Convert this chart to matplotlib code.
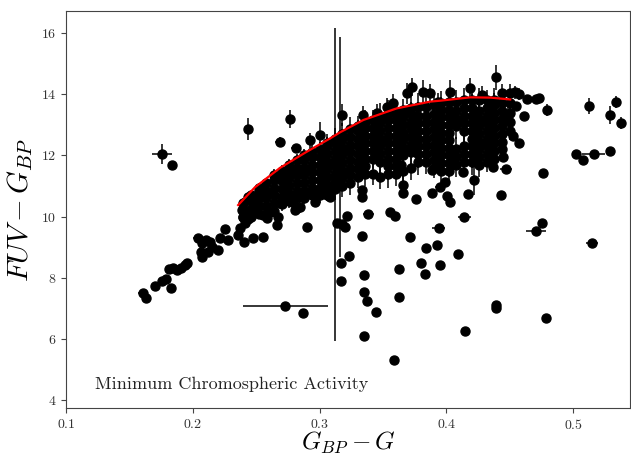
import matplotlib
matplotlib.use("Agg")
import matplotlib.pyplot as plt

# ── fonts: LaTeX-like look ───────────────────────────────────────────────────
plt.rcParams["font.family"] = "serif"
plt.rcParams["font.serif"] = ["cmr10"]
plt.rcParams["mathtext.fontset"] = "cm"
plt.rcParams["axes.formatter.use_mathtext"] = True

# ── DATA ─────────────────────────────────────────────────────────────────────
# dense band of stars: one x per column, y values listed per column
band_cols = [0.240, 0.246, 0.252, 0.258, 0.264, 0.270, 0.276, 0.282, 0.288,
             0.294, 0.300, 0.306, 0.312, 0.318, 0.324, 0.330, 0.336, 0.342,
             0.348, 0.354, 0.360, 0.366, 0.372, 0.378, 0.384, 0.390, 0.396,
             0.402, 0.408, 0.414, 0.420, 0.426, 0.432, 0.438, 0.444, 0.450]
band_rows = [
    [10.00, 10.25, 10.45],
    [10.00, 10.25, 10.50, 10.70],
    [10.10, 10.35, 10.60, 10.85, 10.95],
    [10.10, 10.35, 10.60, 10.85, 11.10],
    [10.20, 10.45, 10.70, 10.95, 11.20, 11.35],
    [10.40, 10.65, 10.90, 11.15, 11.40, 11.50],
    [10.50, 10.75, 11.00, 11.25, 11.50, 11.70],
    [10.60, 10.85, 11.10, 11.35, 11.60, 11.85],
    [10.60, 10.85, 11.10, 11.35, 11.60, 11.85, 12.00],
    [10.70, 10.95, 11.20, 11.45, 11.70, 11.95, 12.10],
    [10.70, 10.95, 11.20, 11.45, 11.70, 11.95, 12.20],
    [10.80, 11.05, 11.30, 11.55, 11.80, 12.05, 12.30, 12.40],
    [10.90, 11.15, 11.40, 11.65, 11.90, 12.15, 12.40, 12.55],
    [11.00, 11.25, 11.50, 11.75, 12.00, 12.25, 12.50, 12.70],
    [11.10, 11.35, 11.60, 11.85, 12.10, 12.35, 12.60, 12.85],
    [11.30, 11.55, 11.80, 12.05, 12.30, 12.55, 12.80, 12.95],
    [11.40, 11.65, 11.90, 12.15, 12.40, 12.65, 12.90, 13.10],
    [11.40, 11.90, 12.15, 12.40, 12.65, 12.90, 13.15],
    [11.30, 11.80, 12.05, 12.30, 12.55, 12.80, 13.05, 13.30],
    [11.40, 11.65, 11.90, 12.15, 12.40, 12.65, 12.90, 13.15, 13.35],
    [11.40, 11.65, 11.90, 12.15, 12.40, 12.65, 12.90, 13.15, 13.40],
    [11.50, 12.00, 12.25, 12.50, 12.75, 13.00, 13.25, 13.50],
    [11.60, 12.10, 12.35, 12.60, 12.85, 13.10, 13.35, 13.55],
    [11.80, 12.05, 12.30, 12.55, 12.80, 13.05, 13.30, 13.60],
    [11.80, 12.05, 12.30, 12.55, 12.80, 13.05, 13.30, 13.60],
    [11.60, 11.85, 12.10, 12.35, 12.60, 12.85, 13.10, 13.35, 13.65],
    [11.50, 11.75, 12.00, 12.25, 12.50, 12.75, 13.00, 13.25, 13.50, 13.70],
    [11.50, 11.75, 12.00, 12.25, 12.50, 12.75, 13.00, 13.25, 13.50, 13.75],
    [11.70, 11.95, 12.20, 12.95, 13.20, 13.45, 13.75],
    [11.80, 12.05, 12.30, 12.80, 13.05, 13.30, 13.55, 13.80],
    [11.80, 12.05, 12.30, 12.55, 12.80, 13.05, 13.30, 13.55, 13.80],
    [11.70, 11.95, 12.20, 12.45, 12.70, 12.95, 13.20, 13.45, 13.80],
    [11.80, 12.05, 12.30, 12.55, 12.80, 13.05, 13.30, 13.55, 13.80],
    [11.90, 12.15, 12.40, 12.65, 12.90, 13.15, 13.40, 13.65, 13.80],
    [12.20, 12.45, 12.70, 12.95, 13.20, 13.45, 13.70],
    [12.80, 13.10, 13.40, 13.70],
]
band_yerr = [0.15, 0.15, 0.15, 0.15, 0.20, 0.20, 0.20, 0.20, 0.20, 0.25, 0.25,
             0.30, 0.35, 0.35, 0.40, 0.35, 0.40, 0.35, 0.40, 0.45, 0.40, 0.35,
             0.40, 0.45, 0.40, 0.35, 0.40, 0.45, 0.40, 0.40, 0.45, 0.40, 0.35,
             0.40, 0.35, 0.30]

# isolated stars without visible error bars
pts_x = [0.1630, 0.1700, 0.1755, 0.1790, 0.1826, 0.1816, 0.1842, 0.1873,
         0.1905, 0.1939, 0.1957, 0.2071, 0.2105, 0.2137, 0.2063, 0.2071,
         0.2123, 0.2150, 0.2202, 0.2215, 0.2255, 0.2276, 0.2360, 0.2405,
         0.2473, 0.2557, 0.2373, 0.2413, 0.2439, 0.2399, 0.2387, 0.2452,
         0.2478, 0.2505, 0.2439, 0.2505, 0.2557, 0.2610, 0.2676, 0.2689,
         0.2781, 0.2821, 0.2965, 0.3084, 0.2584, 0.2663, 0.2807, 0.2847,
         0.2979, 0.3058, 0.2905, 0.1840, 0.4640, 0.4710, 0.4733, 0.4552,
         0.4615, 0.4523, 0.4570, 0.5023, 0.5080, 0.5288, 0.4760, 0.4754,
         0.4783, 0.4370, 0.4450, 0.4435, 0.4175, 0.4130, 0.3990, 0.4005,
         0.4030, 0.3886, 0.3886, 0.3762, 0.3662, 0.3644, 0.3597, 0.3555,
         0.3334, 0.3334, 0.3215, 0.3136, 0.3176, 0.3202, 0.3334, 0.3710,
         0.3839, 0.3926, 0.4091, 0.3234, 0.3170, 0.3170, 0.3352, 0.3630,
         0.3802, 0.3834, 0.3952, 0.3352, 0.3373, 0.3623, 0.3444, 0.4391,
         0.4391, 0.4149, 0.3352, 0.2870]
pts_y = [7.34, 7.72, 7.91, 7.96, 7.66, 8.28, 8.34, 8.26,
         8.34, 8.42, 8.50, 9.13, 9.24, 9.18, 8.86, 8.68,
         8.86, 9.00, 8.91, 9.30, 9.59, 9.24, 9.40, 9.18,
         9.30, 9.33, 9.62, 9.78, 9.92, 10.00, 10.22, 10.11,
         10.27, 10.44, 10.65, 10.33, 10.06, 10.16, 10.00, 10.44,
         10.49, 10.27, 10.49, 10.65, 9.95, 9.73, 10.22, 10.33,
         10.76, 10.71, 9.67, 11.70, 13.84, 13.84, 13.89, 13.61,
         13.29, 12.64, 12.42, 12.04, 11.85, 12.15, 11.44, 9.79,
         6.70, 11.63, 11.96, 10.71, 10.73, 11.47, 11.14, 10.68,
         10.49, 10.76, 11.53, 10.57, 10.77, 11.69, 10.01, 10.15,
         10.87, 10.65, 10.03, 9.78, 9.76, 9.65, 9.38, 9.33,
         8.99, 9.07, 8.77, 8.73, 8.48, 7.90, 8.10, 8.29,
         8.48, 8.13, 8.42, 7.55, 7.26, 7.39, 6.90, 7.02,
         7.12, 6.25, 6.11, 6.86]

# stars with error bars
ebar_x = [0.1605, 0.2045, 0.1760, 0.2434, 0.2770, 0.2689, 0.2815, 0.3005,
          0.2926, 0.3176, 0.3346, 0.3452, 0.3530, 0.3583, 0.3688, 0.3728,
          0.3820, 0.3938, 0.3873, 0.4030, 0.4189, 0.4280, 0.4391, 0.4439,
          0.4504, 0.4544, 0.4570, 0.4794, 0.4486, 0.5123, 0.5288, 0.5341,
          0.5380, 0.5162, 0.5149, 0.4710, 0.4470, 0.4215, 0.3950, 0.4141,
          0.3940, 0.3662, 0.3386, 0.3591, 0.2730, 0.3120, 0.3160]
ebar_y = [7.52, 9.30, 12.04, 12.86, 13.19, 12.45, 12.23, 12.66,
          12.50, 13.32, 13.32, 13.38, 13.59, 13.70, 14.03, 14.24,
          14.08, 13.75, 14.03, 14.08, 14.19, 13.97, 14.55, 14.03,
          14.03, 14.06, 14.00, 13.48, 13.32, 13.62, 13.32, 13.74,
          13.05, 12.05, 9.15, 9.53, 11.56, 11.20, 10.98, 9.98,
          9.62, 11.04, 10.09, 5.32, 7.09, 11.05, 12.28]
ebar_xerr = [0.0040, 0.0040, 0.0080, 0, 0, 0.0040, 0.0040, 0,
             0, 0, 0, 0, 0, 0, 0, 0,
             0, 0, 0, 0, 0, 0, 0, 0,
             0, 0, 0, 0, 0, 0, 0, 0,
             0, 0.0088, 0.0050, 0.0080, 0.0050, 0, 0.0040, 0.0050,
             0.0050, 0, 0.0040, 0.0030, 0.0335, 0, 0]
ebar_yerr = [0, 0, 0.32, 0.35, 0.30, 0.15, 0.12, 0.45,
             0.25, 0.35, 0.30, 0.30, 0.30, 0.30, 0.35, 0.30,
             0.40, 0.30, 0.30, 0.40, 0.35, 0.30, 0.40, 0.30,
             0.30, 0.20, 0.20, 0.20, 0.25, 0.25, 0.30, 0.20,
             0.20, 0, 0, 0, 0, 0.50, 0, 0,
             0, 0.30, 0, 0, 0, 5.10, 3.60]

# minimum chromospheric activity locus
min_act_x = [0.2358, 0.2490, 0.2690, 0.2890, 0.3084, 0.3163, 0.3346, 0.3610,
             0.3873, 0.3952, 0.4189, 0.4350, 0.4504]
min_act_y = [10.38, 10.96, 11.60, 12.10, 12.56, 12.76, 13.16, 13.54,
             13.76, 13.79, 13.90, 13.89, 13.83]

# ── PLOT ─────────────────────────────────────────────────────────────────────
band_x, band_y, band_e = [], [], []
for x, ys, e in zip(band_cols, band_rows, band_yerr):
    band_x += [x] * len(ys)
    band_y += ys
    band_e += [e] * len(ys)

fig = plt.figure(figsize=(6.31, 4.55), dpi=100)
ax = fig.add_axes([0.1046, 0.1033, 0.894, 0.8725])

style = dict(fmt="o", color="black", ms=6.5, elinewidth=1.1, capsize=0)
ax.errorbar(band_x, band_y, yerr=band_e, **style)
ax.errorbar(pts_x, pts_y, **style)
ax.errorbar(ebar_x, ebar_y, xerr=ebar_xerr, yerr=ebar_yerr, **style)

ax.plot(min_act_x, min_act_y, color="#ff0000", lw=1.6, zorder=5)

ax.text(0.1229, 4.38, "Minimum Chromospheric Activity", fontsize=13,
        color="#222222", va="baseline")

ax.set_xlim(0.1, 0.545)
ax.set_ylim(3.75, 16.72)
ax.set_xticks([0.1, 0.2, 0.3, 0.4, 0.5])
ax.set_yticks([4, 6, 8, 10, 12, 14, 16])
ax.tick_params(labelsize=10, length=3.5, color="#444444", labelcolor="#333333")
for s in ax.spines.values():
    s.set_color("#444444")

ax.set_xlabel(r"$G_{BP} - G$", fontsize=18, labelpad=-1.5)
ax.set_ylabel(r"$FUV - G_{BP}$", fontsize=21, labelpad=4)

fig.savefig("out.png", dpi=100)
